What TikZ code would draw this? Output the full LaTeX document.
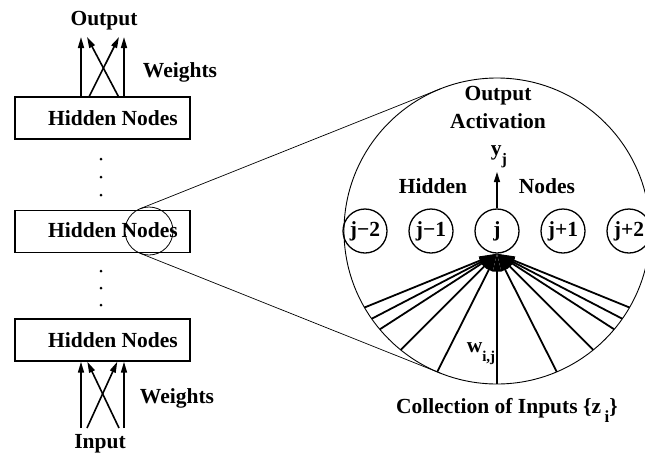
\documentclass[tikz,border=0pt]{standalone}
\usepackage{fontspec}
\setmainfont{Liberation Serif}
\usetikzlibrary{arrows.meta,calc}

\begin{document}
\begin{tikzpicture}[x=1pt,y=1pt,
  lbl/.style={font=\fontsize{21.5}{24}\selectfont\bfseries, inner sep=0pt, anchor=base},
  layerbox/.style={draw, line width=1.4pt, minimum width=175pt, minimum height=42pt, inner sep=0pt},
  unit/.style={circle, draw, line width=1.3pt, minimum size=44pt, inner sep=0pt,
               font=\fontsize{21.5}{24}\selectfont\bfseries},
  wt/.style={line width=1.6pt, -{Triangle[length=11pt,width=6pt]}},
  inp/.style={line width=1.8pt, -{Triangle[length=18pt,width=8pt]}},
  dotmark/.style={circle, fill, inner sep=0pt, minimum size=3pt},
]
\useasboundingbox (0,0) rectangle (645,-461);
\clip (0,0) rectangle (645,-461);

% ---- stack of layers on the left ----
\node[layerbox] (h1) at (102.5,-118) {};
\node[layerbox] (h2) at (102.5,-231.5) {};
\node[layerbox] (h3) at (102.5,-340) {};
\node[lbl] (h1t) at (113,-125) {Hidden Nodes};
\node[lbl] (h2t) at (113,-237) {Hidden Nodes};
\node[lbl] (h3t) at (113,-347) {Hidden Nodes};

\node[lbl] (out) at (104,-25) {Output};
\node[lbl] (wtop) at (180,-77) {Weights};
\node[lbl] (wbot) at (177,-403) {Weights};
\node[lbl] (inp) at (100,-448) {Input};

% vertical ellipsis dots
\node[dotmark] (d1) at (101,-159) {};
\node[dotmark] (d2) at (101,-177) {};
\node[dotmark] (d3) at (101,-195) {};
\node[dotmark] (d4) at (101,-271) {};
\node[dotmark] (d5) at (101,-288) {};
\node[dotmark] (d6) at (101,-305) {};

% output weights
\coordinate (oa) at (81,-37);
\coordinate (ob) at (87,-37);
\coordinate (oc) at (119,-37);
\coordinate (od) at (124,-37);
\draw[wt] (h1.north west -| oa) -- (oa);
\draw[wt] (h1.north west -| od) -- (od);
\draw[wt] ($(h1.north west)+(75,0)$) -- (oc);
\draw[wt] ($(h1.north west)+(104,0)$) -- (ob);

% input weights
\coordinate (ia) at (81,-428);
\coordinate (ib) at (87,-428);
\coordinate (ic) at (119,-428);
\coordinate (id) at (124,-428);
\draw[wt] (ia) -- (h3.south west -| ia);
\draw[wt] (id) -- (h3.south west -| id);
\draw[wt] (ib) -- ($(h3.south west)+(103,0)$);
\draw[wt] (ic) -- ($(h3.south west)+(73,0)$);

% ---- magnified view ----
\node[circle, draw, line width=0.8pt, minimum size=48pt, inner sep=0pt] (spot) at (149,-231) {};
\node[circle, draw, line width=0.9pt, minimum size=306pt, inner sep=0pt] (lens) at (497,-231) {};

% outer tangents joining the two circles
\draw[line width=0.7pt] ($(spot.center)+(111.76:24)$) -- ($(lens.center)+(111.76:153)$);
\draw[line width=0.7pt] ($(spot.center)+(248.24:24)$) -- ($(lens.center)+(248.24:153)$);

% hidden units
\node[unit] (jm2) at (365,-231) {j\char"2212 2};
\node[unit] (jm1) at (431,-231) {j\char"2212 1};
\node[unit] (j)   at (497,-231) {j};
\node[unit] (jp1) at (563,-231) {j+1};
\node[unit] (jp2) at (629,-231) {j+2};

\node[lbl] (hid) at (433,-193) {Hidden};
\node[lbl] (nod) at (547,-193) {Nodes};
\node[lbl] (oact1) at (498,-100) {Output};
\node[lbl] (oact2) at (498,-128.5) {Activation};
\node[lbl] (yj) at (499,-155) {y\raisebox{-0.42em}{\fontsize{16}{16}\selectfont j}};

\coordinate (ytip) at (497,-172);
\draw[line width=1.3pt, -{Triangle[length=10pt,width=6pt]}] (j.north) -- (ytip);

% incoming weighted inputs
\foreach \a in {210,215,220,231,247,270,293,309,320,325,330}
  \draw[inp] ($(lens.center)+(\a:153)$) -- (j.south);

\node[lbl] (wij) at (481,-352) {w\raisebox{-0.45em}{\fontsize{15}{15}\selectfont i,j}};
\node[lbl] (coll) at (507,-413) {Collection of Inputs \{z\,\raisebox{-0.42em}{\fontsize{17}{17}\selectfont i}\}};
\end{tikzpicture}
\end{document}
